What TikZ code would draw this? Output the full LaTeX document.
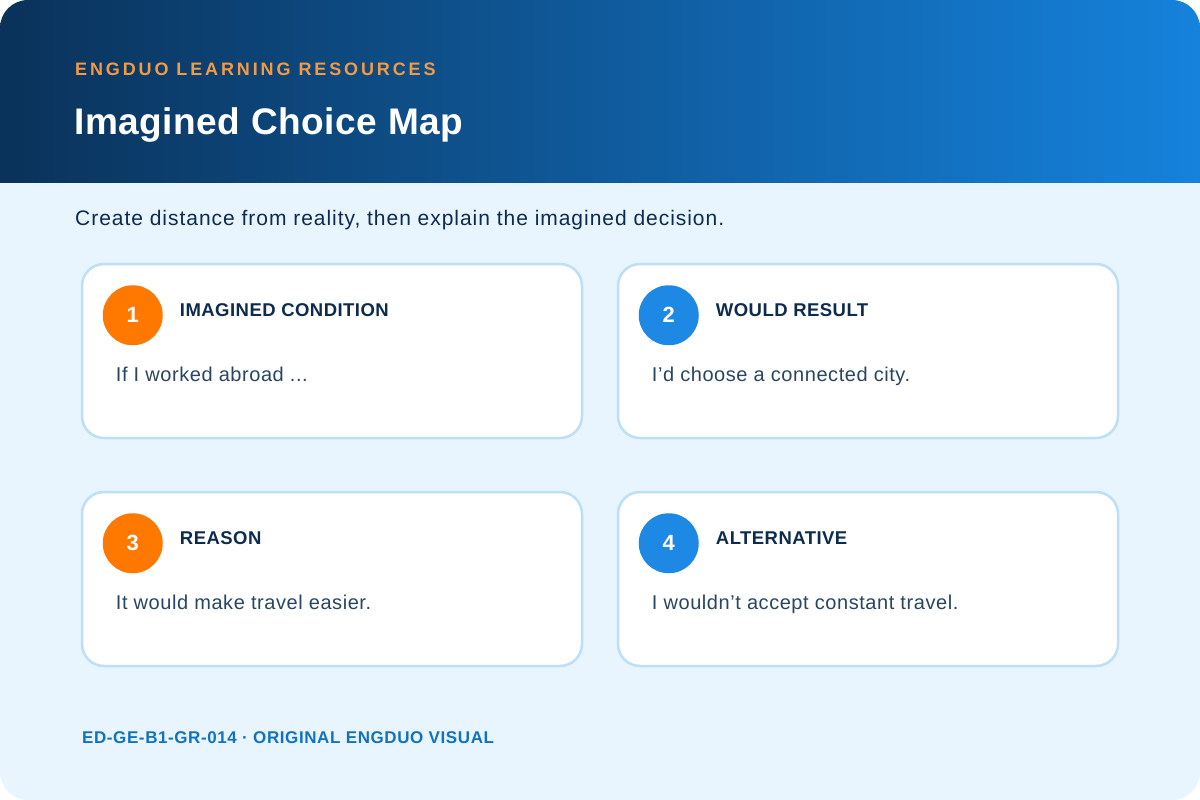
\documentclass[tikz,border=0pt]{standalone}
\usepackage{fontspec}
\setmainfont{Liberation Sans}
\definecolor{bgblue}{HTML}{E8F4FE}
\definecolor{hdA}{HTML}{0A325A}
\definecolor{hdB}{HTML}{1582DC}
\definecolor{kicker}{HTML}{F39A45}
\definecolor{navy}{HTML}{0D2B4E}
\definecolor{bodytxt}{HTML}{2A4563}
\definecolor{cardline}{HTML}{BDDFF7}
\definecolor{orangec}{HTML}{FF7800}
\definecolor{bluec}{HTML}{1E88E5}
\definecolor{foot}{HTML}{1173C0}
\tikzset{
  card/.style={draw=cardline, line width=2.5pt, fill=white, rounded corners=22pt, minimum width=500pt, minimum height=174pt, inner sep=0pt},
  numdot/.style={circle, minimum size=60pt, inner sep=0pt, text=white, font=\fontsize{22}{26}\selectfont\bfseries},
  cardhead/.style={anchor=base west, inner sep=0pt, text=navy, font=\fontsize{18.5}{22}\selectfont\bfseries\addfontfeature{LetterSpace=2.5}},
  cardbody/.style={anchor=base west, inner sep=0pt, text=bodytxt, font=\fontsize{20}{24}\selectfont\addfontfeature{LetterSpace=2.8}},
}
\begin{document}
\begin{tikzpicture}[x=1pt,y=-1pt]
\useasboundingbox (0,0) rectangle (1200,800);
\begin{scope}
\clip[rounded corners=28pt] (0,0) rectangle (1200,800);
\fill[bgblue] (0,0) rectangle (1200,800);
\shade[left color=hdA, right color=hdB] (0,0) rectangle (1200,182);
\end{scope}
\node[anchor=base west, inner sep=0pt, text=kicker, font=\fontsize{18}{21}\selectfont\bfseries\addfontfeature{LetterSpace=16}] (kick) at (75,76) {ENGDUO LEARNING RESOURCES};
\node[anchor=base west, inner sep=0pt, text=white, font=\fontsize{37}{42}\selectfont\bfseries\addfontfeature{LetterSpace=1.5}] (title) at (74,134) {Imagined Choice Map};
\node[anchor=base west, inner sep=0pt, text=navy, font=\fontsize{21}{25}\selectfont\addfontfeature{LetterSpace=4.6}] (sub) at (75,225) {Create distance from reality, then explain the imagined decision.};

% cards
\node[card] (c1) at (332,351) {};
\node[card] (c2) at (868,351) {};
\node[card] (c3) at (332,579) {};
\node[card] (c4) at (868,579) {};

\foreach \c/\n/\col/\head/\body in {
  c1/1/orangec/{IMAGINED CONDITION}/{If I worked abroad .{}.{}.},
  c2/2/bluec/{WOULD RESULT}/{I’d choose a connected city.},
  c3/3/orangec/{REASON}/{It would make travel easier.},
  c4/4/bluec/{ALTERNATIVE}/{I wouldn’t accept constant travel.}}{
  \node[numdot, fill=\col] (\c n) at ([xshift=52pt,yshift=-52.5pt]\c.north west) {\n};
  \node[cardhead] (\c h) at ([xshift=99pt,yshift=-53.5pt]\c.north west) {\head};
  \node[cardbody] (\c b) at ([xshift=35pt,yshift=-118.5pt]\c.north west) {\body};
}

\node[anchor=base west, inner sep=0pt, text=foot, font=\fontsize{17}{20}\selectfont\bfseries\addfontfeature{LetterSpace=3.5}] (footer) at (82,743) {ED-GE-B1-GR-014 · ORIGINAL ENGDUO VISUAL};
\end{tikzpicture}
\end{document}
